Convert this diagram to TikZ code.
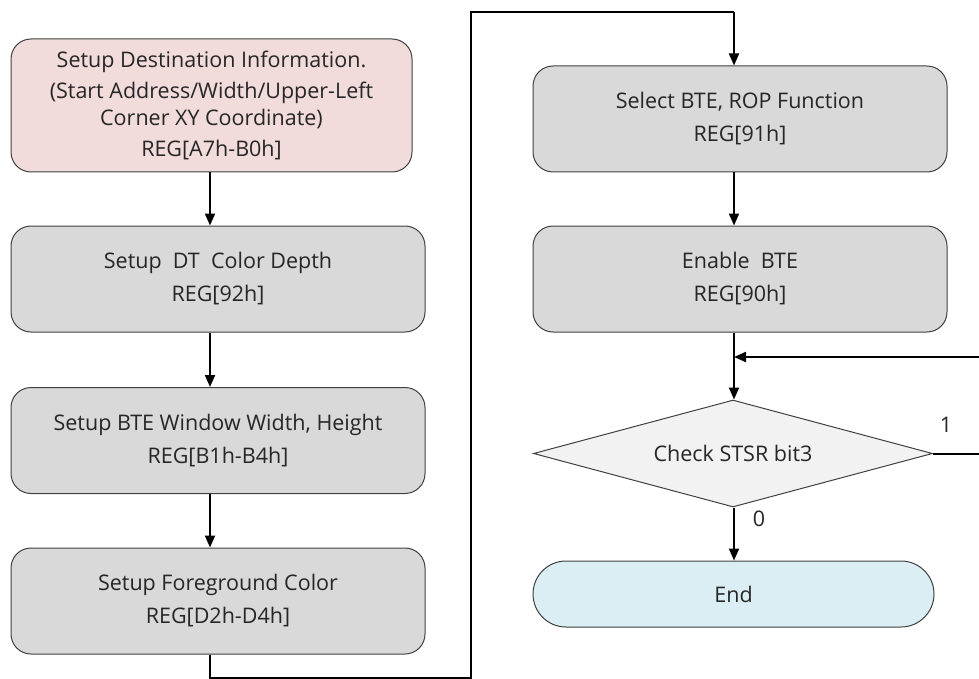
\documentclass[tikz,border=0pt]{standalone}
\usepackage{fontspec}
\setmainfont{Open Sans}
\usetikzlibrary{arrows.meta,shapes.geometric}
\definecolor{pinkfill}{HTML}{F2DCDB}
\definecolor{grayfill}{HTML}{D9D9D9}
\definecolor{dfill}{HTML}{F2F2F2}
\definecolor{bluefill}{HTML}{DAEEF3}
\definecolor{edge}{HTML}{404040}
\definecolor{txt}{HTML}{262626}
\tikzset{
  box/.style={draw=edge, line width=1pt, rounded corners=20pt, minimum width=414pt, minimum height=106pt, fill=grayfill, align=center, text=txt, font=\fontsize{21.5}{33}\selectfont, inner sep=0pt},
  dec/.style={draw=edge, line width=1pt, diamond, aspect=3.73, minimum width=399pt, minimum height=107pt, fill=dfill, text=txt, font=\fontsize{21.5}{30}\selectfont, inner sep=0pt},
  term/.style={draw=edge, line width=1pt, rounded corners=33pt, minimum width=401pt, minimum height=66pt, fill=bluefill, text=txt, font=\fontsize{21.5}{30}\selectfont, inner sep=0pt},
  arr/.style={line width=2pt, -{Triangle[length=12pt,width=10pt]}},
  ln/.style={line width=2pt},
  lbl/.style={text=txt, font=\fontsize{21.5}{24}\selectfont, inner sep=0pt}
}
\begin{document}
\begin{tikzpicture}[x=1pt,y=-1pt]
\useasboundingbox (0,0) rectangle (979,679);
\node[box, fill=pinkfill, minimum width=401pt, minimum height=133pt] (b1) at (211.5,105.5)
  {Setup Destination Information.\\[-2pt](Start Address/Width/Upper-Left\\[-6pt]Corner XY Coordinate)\\[-2pt]REG[A7h-B0h]};
\node[box] (b2) at (218,279) {Setup\ \ DT\ \ Color Depth\\REG[92h]};
\node[box] (b3) at (218,440.5) {Setup BTE Window Width, Height\\REG[B1h-B4h]};
\node[box] (b4) at (218,601) {Setup Foreground Color\\REG[D2h-D4h]};
\node[box] (b5) at (740,119) {Select BTE, ROP Function\\REG[91h]};
\node[box] (b6) at (740,279) {Enable\ \ BTE\\REG[90h]};
\node[dec] (d) at (733,453.5) {Check STSR bit3};
\node[term] (e) at (733.5,594) {End};
\coordinate (c1) at (210,678);
\coordinate (c2) at (471,678);
\coordinate (c3) at (471,12);
\coordinate (c4) at (734,12);
\coordinate (m) at (734,357);
\coordinate (r1) at (980,453.5);
\coordinate (r2) at (980,357);
\draw[arr] (b1.south -| 210,0) -- (b2.north -| 210,0);
\draw[arr] (b2.south -| 210,0) -- (b3.north -| 210,0);
\draw[arr] (b3.south -| 210,0) -- (b4.north -| 210,0);
\draw[ln] (b4.south -| 210,0) -- (c1) -- (c2) -- (c3) -- (c4);
\draw[arr] (c4) -- (b5.north -| c4);
\draw[arr] (b5.south -| c4) -- (b6.north -| c4);
\draw[arr] (b6.south -| c4) -- (d.north -| c4);
\draw[ln] (d.east) -- (r1);
\draw[arr] (r2) -- (m);
\draw[arr] (d.south -| c4) -- (e.north -| c4);
\node[lbl] (one) at (946,425) {1};
\node[lbl] (zero) at (759,519) {0};
\end{tikzpicture}
\end{document}
